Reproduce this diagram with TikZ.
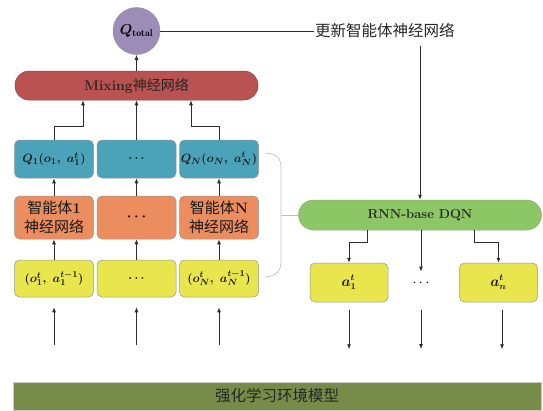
\documentclass[tikz,border=0pt]{standalone}
\usepackage{fontspec}
\usepackage{bm}
\newfontfamily\cjk{Noto Sans CJK SC}
\usetikzlibrary{arrows.meta}
\definecolor{qtcol}{RGB}{156,141,184}
\definecolor{mixcol}{RGB}{185,82,80}
\definecolor{tealcol}{RGB}{75,163,186}
\definecolor{orgcol}{RGB}{236,141,96}
\definecolor{yelcol}{RGB}{232,230,76}
\definecolor{grncol}{RGB}{141,199,101}
\definecolor{envcol}{RGB}{120,140,73}
\definecolor{linecol}{RGB}{45,45,45}
\definecolor{bordcol}{RGB}{150,150,150}
\tikzset{
  arr/.style={draw=linecol, line width=0.8pt, -{Latex[length=5pt,width=4pt]}},
  ln/.style={draw=linecol, line width=0.8pt},
  cbox/.style={draw=bordcol, line width=0.5pt, rounded corners=5pt, minimum width=79pt, inner sep=1pt, align=center, text=black!90},
  qbox/.style={cbox, fill=tealcol, minimum height=38pt, font=\fontsize{13}{16}\selectfont},
  obox/.style={cbox, fill=orgcol, minimum height=43pt, font=\fontsize{15}{18.5}\selectfont},
  ybox/.style={cbox, fill=yelcol, minimum height=37pt, font=\fontsize{13}{16}\selectfont},
  abox/.style={cbox, fill=yelcol, minimum width=78pt, minimum height=39pt, font=\fontsize{13.5}{16}\selectfont},
}
\begin{document}
\begin{tikzpicture}[x=1pt,y=-1pt]
\useasboundingbox (0,0) rectangle (543,410);
\node[circle, fill=qtcol, draw=bordcol, line width=0.5pt, minimum size=47pt, inner sep=0pt, font=\fontsize{14}{16}\selectfont] (qt) at (136.5,31) {$\bm{Q}_{\mathbf{total}}$};
\node[draw=mixcol!80!black, line width=0.5pt, fill=mixcol, rounded corners=14pt, minimum width=243pt, minimum height=29pt, inner sep=0pt, font=\fontsize{14}{16}\selectfont, text=black!85] (mix) at (136.5,85.5) {\textbf{Mixing}{\cjk 神经网络}};
\node[qbox] (q1) at (54,159) {$\bm{Q_1(o_1,\ a_1^t)}$};
\node[qbox] (q2) at (136.5,159) {$\bm{\cdots}$};
\node[qbox] (q3) at (219,159) {$\bm{Q_N(o_N,\ a_N^t)}$};
\node[obox] (o1) at (54,217.5) {{\cjk 智能体}\textbf{1}\\{\cjk 神经网络}};
\node[obox] (o2) at (136.5,217.5) {$\bm{\cdots}$};
\node[obox] (o3) at (219,217.5) {{\cjk 智能体}\textbf{N}\\{\cjk 神经网络}};
\node[ybox] (y1) at (54,278.5) {$\bm{(o_1^t,\ a_1^{t-1})}$};
\node[ybox] (y2) at (136.5,278.5) {$\bm{\cdots}$};
\node[ybox] (y3) at (219,278.5) {$\bm{(o_N^t,\ a_N^{t-1})}$};
\foreach \i in {1,2,3}{
  \draw[arr] (y\i.north) -- (o\i.south);
  \draw[arr] (o\i.north) -- (q\i.south);
}
\draw[arr] (q1.north) -- ++(0,-13) -| ([xshift=-53.5pt]mix.south);
\draw[arr] (q2.north) -- (mix.south);
\draw[arr] (q3.north) -- ++(0,-13) -| ([xshift=54.5pt]mix.south);
\draw[arr] (mix.north) -- (qt.south);
\foreach \i in {1,2,3}{
  \coordinate (b\i) at ([yshift=-48pt]y\i.south);
  \coordinate (t\i) at ([yshift=-10pt]y\i.south);
  \draw[arr] (b\i) -- (t\i);
}
\node[anchor=west, inner sep=1pt, font=\fontsize{15.5}{18}\selectfont\cjk, text=black!85] (upd) at (314,31) {更新智能体神经网络};
\draw[ln] (qt.east) -- (upd.west);
\coordinate (uc) at (420,46);
\node[draw=bordcol!70!grncol, line width=0.5pt, fill=grncol, rounded corners=15pt, minimum width=243pt, minimum height=30pt, inner sep=0pt, font=\fontsize{13}{15}\selectfont, text=black!85] (dqn) at (420,215) {\textbf{RNN-base DQN}};
\draw[arr] (uc) -- (uc |- dqn.north);
\draw[bordcol!60, line width=0.7pt] (265,153) .. controls (277,154) and (281,158) .. (281,168) -- (281,262) .. controls (281,271) and (276,276) .. (265,277);
\coordinate (bm) at (281,215);
\draw[bordcol!60, line width=0.7pt] (bm) -- (dqn.west);
\node[abox] (a1) at (349,282.5) {$\bm{a_1^t}$};
\node[abox] (an) at (498.5,282.5) {$\bm{a_n^t}$};
\node[inner sep=0pt, font=\fontsize{13.5}{16}\selectfont] (ad) at (421,283) {$\cdots$};
\draw[arr] ([xshift=-53pt]dqn.south) -- ++(0,12) -| (a1.north);
\draw[arr] ([xshift=1pt]dqn.south) -- ([yshift=8pt]ad.north);
\draw[arr] ([xshift=54pt]dqn.south) -- ++(0,12) -| (an.north);
\coordinate (d1) at ([yshift=-8pt]a1.south);
\coordinate (d2) at (421,310);
\coordinate (d3) at ([yshift=-8pt,xshift=3.5pt]an.south);
\foreach \i in {1,2,3}{
  \draw[arr] (d\i) -- ++(0,39);
}
\node[fill=envcol, draw=bordcol!50, line width=0.4pt, minimum width=528pt, minimum height=28pt, inner sep=0pt, font=\fontsize{15.5}{18}\selectfont\cjk, text=black!85] (env) at (277,396) {强化学习环境模型};
\end{tikzpicture}
\end{document}
